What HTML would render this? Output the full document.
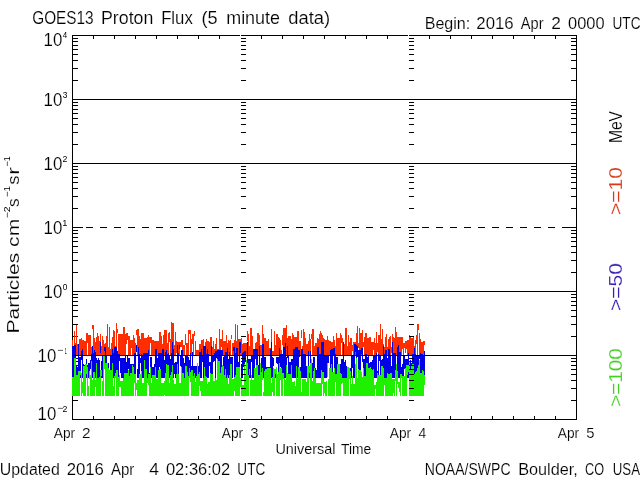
<!DOCTYPE html>
<html><head><meta charset="utf-8"><style>html,body{margin:0;padding:0;background:#fff;}svg{display:block;will-change:transform;}</style></head>
<body><svg width="640" height="480" viewBox="0 0 640 480" font-family="Liberation Sans, sans-serif">
<rect width="640" height="480" fill="#fff"/>
<g shape-rendering="crispEdges"><rect x="72" y="35" width="505" height="1" fill="#000"/><rect x="72" y="419" width="505" height="1" fill="#000"/><rect x="72" y="35" width="1" height="385" fill="#000"/><rect x="576" y="35" width="1" height="385" fill="#000"/><rect x="240" y="35" width="1" height="1" fill="#fff"/><rect x="240" y="419" width="1" height="1" fill="#fff"/><rect x="408" y="35" width="1" height="1" fill="#fff"/><rect x="408" y="419" width="1" height="1" fill="#fff"/><rect x="93" y="36" width="1" height="3" fill="#000"/><rect x="93" y="416" width="1" height="3" fill="#000"/><rect x="114" y="36" width="1" height="3" fill="#000"/><rect x="114" y="416" width="1" height="3" fill="#000"/><rect x="135" y="36" width="1" height="3" fill="#000"/><rect x="135" y="416" width="1" height="3" fill="#000"/><rect x="156" y="36" width="1" height="3" fill="#000"/><rect x="156" y="416" width="1" height="3" fill="#000"/><rect x="177" y="36" width="1" height="3" fill="#000"/><rect x="177" y="416" width="1" height="3" fill="#000"/><rect x="198" y="36" width="1" height="3" fill="#000"/><rect x="198" y="416" width="1" height="3" fill="#000"/><rect x="219" y="36" width="1" height="3" fill="#000"/><rect x="219" y="416" width="1" height="3" fill="#000"/><rect x="261" y="36" width="1" height="3" fill="#000"/><rect x="261" y="416" width="1" height="3" fill="#000"/><rect x="282" y="36" width="1" height="3" fill="#000"/><rect x="282" y="416" width="1" height="3" fill="#000"/><rect x="303" y="36" width="1" height="3" fill="#000"/><rect x="303" y="416" width="1" height="3" fill="#000"/><rect x="324" y="36" width="1" height="3" fill="#000"/><rect x="324" y="416" width="1" height="3" fill="#000"/><rect x="345" y="36" width="1" height="3" fill="#000"/><rect x="345" y="416" width="1" height="3" fill="#000"/><rect x="366" y="36" width="1" height="3" fill="#000"/><rect x="366" y="416" width="1" height="3" fill="#000"/><rect x="387" y="36" width="1" height="3" fill="#000"/><rect x="387" y="416" width="1" height="3" fill="#000"/><rect x="429" y="36" width="1" height="3" fill="#000"/><rect x="429" y="416" width="1" height="3" fill="#000"/><rect x="450" y="36" width="1" height="3" fill="#000"/><rect x="450" y="416" width="1" height="3" fill="#000"/><rect x="471" y="36" width="1" height="3" fill="#000"/><rect x="471" y="416" width="1" height="3" fill="#000"/><rect x="492" y="36" width="1" height="3" fill="#000"/><rect x="492" y="416" width="1" height="3" fill="#000"/><rect x="513" y="36" width="1" height="3" fill="#000"/><rect x="513" y="416" width="1" height="3" fill="#000"/><rect x="534" y="36" width="1" height="3" fill="#000"/><rect x="534" y="416" width="1" height="3" fill="#000"/><rect x="555" y="36" width="1" height="3" fill="#000"/><rect x="555" y="416" width="1" height="3" fill="#000"/><rect x="73" y="400" width="5" height="1" fill="#000"/><rect x="571" y="400" width="5" height="1" fill="#000"/><rect x="73" y="388" width="5" height="1" fill="#000"/><rect x="571" y="388" width="5" height="1" fill="#000"/><rect x="73" y="380" width="5" height="1" fill="#000"/><rect x="571" y="380" width="5" height="1" fill="#000"/><rect x="73" y="374" width="5" height="1" fill="#000"/><rect x="571" y="374" width="5" height="1" fill="#000"/><rect x="73" y="369" width="5" height="1" fill="#000"/><rect x="571" y="369" width="5" height="1" fill="#000"/><rect x="73" y="365" width="5" height="1" fill="#000"/><rect x="571" y="365" width="5" height="1" fill="#000"/><rect x="73" y="361" width="5" height="1" fill="#000"/><rect x="571" y="361" width="5" height="1" fill="#000"/><rect x="73" y="358" width="5" height="1" fill="#000"/><rect x="571" y="358" width="5" height="1" fill="#000"/><rect x="73" y="336" width="5" height="1" fill="#000"/><rect x="571" y="336" width="5" height="1" fill="#000"/><rect x="73" y="324" width="5" height="1" fill="#000"/><rect x="571" y="324" width="5" height="1" fill="#000"/><rect x="73" y="316" width="5" height="1" fill="#000"/><rect x="571" y="316" width="5" height="1" fill="#000"/><rect x="73" y="310" width="5" height="1" fill="#000"/><rect x="571" y="310" width="5" height="1" fill="#000"/><rect x="73" y="305" width="5" height="1" fill="#000"/><rect x="571" y="305" width="5" height="1" fill="#000"/><rect x="73" y="301" width="5" height="1" fill="#000"/><rect x="571" y="301" width="5" height="1" fill="#000"/><rect x="73" y="297" width="5" height="1" fill="#000"/><rect x="571" y="297" width="5" height="1" fill="#000"/><rect x="73" y="294" width="5" height="1" fill="#000"/><rect x="571" y="294" width="5" height="1" fill="#000"/><rect x="73" y="272" width="5" height="1" fill="#000"/><rect x="571" y="272" width="5" height="1" fill="#000"/><rect x="73" y="260" width="5" height="1" fill="#000"/><rect x="571" y="260" width="5" height="1" fill="#000"/><rect x="73" y="252" width="5" height="1" fill="#000"/><rect x="571" y="252" width="5" height="1" fill="#000"/><rect x="73" y="246" width="5" height="1" fill="#000"/><rect x="571" y="246" width="5" height="1" fill="#000"/><rect x="73" y="241" width="5" height="1" fill="#000"/><rect x="571" y="241" width="5" height="1" fill="#000"/><rect x="73" y="237" width="5" height="1" fill="#000"/><rect x="571" y="237" width="5" height="1" fill="#000"/><rect x="73" y="233" width="5" height="1" fill="#000"/><rect x="571" y="233" width="5" height="1" fill="#000"/><rect x="73" y="230" width="5" height="1" fill="#000"/><rect x="571" y="230" width="5" height="1" fill="#000"/><rect x="73" y="208" width="5" height="1" fill="#000"/><rect x="571" y="208" width="5" height="1" fill="#000"/><rect x="73" y="196" width="5" height="1" fill="#000"/><rect x="571" y="196" width="5" height="1" fill="#000"/><rect x="73" y="188" width="5" height="1" fill="#000"/><rect x="571" y="188" width="5" height="1" fill="#000"/><rect x="73" y="182" width="5" height="1" fill="#000"/><rect x="571" y="182" width="5" height="1" fill="#000"/><rect x="73" y="177" width="5" height="1" fill="#000"/><rect x="571" y="177" width="5" height="1" fill="#000"/><rect x="73" y="173" width="5" height="1" fill="#000"/><rect x="571" y="173" width="5" height="1" fill="#000"/><rect x="73" y="169" width="5" height="1" fill="#000"/><rect x="571" y="169" width="5" height="1" fill="#000"/><rect x="73" y="166" width="5" height="1" fill="#000"/><rect x="571" y="166" width="5" height="1" fill="#000"/><rect x="73" y="144" width="5" height="1" fill="#000"/><rect x="571" y="144" width="5" height="1" fill="#000"/><rect x="73" y="132" width="5" height="1" fill="#000"/><rect x="571" y="132" width="5" height="1" fill="#000"/><rect x="73" y="124" width="5" height="1" fill="#000"/><rect x="571" y="124" width="5" height="1" fill="#000"/><rect x="73" y="118" width="5" height="1" fill="#000"/><rect x="571" y="118" width="5" height="1" fill="#000"/><rect x="73" y="113" width="5" height="1" fill="#000"/><rect x="571" y="113" width="5" height="1" fill="#000"/><rect x="73" y="109" width="5" height="1" fill="#000"/><rect x="571" y="109" width="5" height="1" fill="#000"/><rect x="73" y="105" width="5" height="1" fill="#000"/><rect x="571" y="105" width="5" height="1" fill="#000"/><rect x="73" y="102" width="5" height="1" fill="#000"/><rect x="571" y="102" width="5" height="1" fill="#000"/><rect x="73" y="80" width="5" height="1" fill="#000"/><rect x="571" y="80" width="5" height="1" fill="#000"/><rect x="73" y="68" width="5" height="1" fill="#000"/><rect x="571" y="68" width="5" height="1" fill="#000"/><rect x="73" y="60" width="5" height="1" fill="#000"/><rect x="571" y="60" width="5" height="1" fill="#000"/><rect x="73" y="54" width="5" height="1" fill="#000"/><rect x="571" y="54" width="5" height="1" fill="#000"/><rect x="73" y="49" width="5" height="1" fill="#000"/><rect x="571" y="49" width="5" height="1" fill="#000"/><rect x="73" y="45" width="5" height="1" fill="#000"/><rect x="571" y="45" width="5" height="1" fill="#000"/><rect x="73" y="41" width="5" height="1" fill="#000"/><rect x="571" y="41" width="5" height="1" fill="#000"/><rect x="73" y="38" width="5" height="1" fill="#000"/><rect x="571" y="38" width="5" height="1" fill="#000"/></g>
<g shape-rendering="crispEdges"><path d="M72 340v16M73 349v7M74 331v25M75 343v13M76 325v31M77 344v12M78 344v7M79 339v17M80 339v17M81 338v18M82 340v16M83 340v16M84 341v15M85 341v15M86 333v23M87 333v10M88 335v21M89 335v21M90 335v21M91 347v9M92 325v4M93 325v31M94 338v18M95 342v14M96 337v19M97 333v23M98 336v20M99 341v15M100 334v22M101 346v10M102 336v20M103 340v16M104 344v12M105 343v13M106 336v20M107 324v32M108 347v9M109 327v29M110 349v7M111 343v13M112 337v19M113 330v26M114 331v25M115 346v10M116 323v33M117 329v4M118 334v22M119 334v22M120 334v22M121 334v22M122 334v22M123 327v29M124 327v29M125 334v22M126 333v11M127 333v7M128 336v20M129 336v20M130 340v16M131 340v8M132 340v16M133 335v21M134 338v18M135 343v13M136 330v5M137 329v27M138 329v27M139 336v20M140 339v17M141 333v23M142 333v23M143 333v23M144 338v18M145 338v18M146 338v18M147 337v19M148 335v21M149 337v19M150 337v6M151 337v19M152 340v16M153 340v16M154 341v15M155 341v15M156 341v15M157 341v15M158 341v15M159 332v24M160 332v24M161 336v20M162 344v12M163 335v21M164 330v26M165 330v26M166 330v26M167 343v13M168 333v23M169 332v10M170 339v17M171 322v34M172 323v33M173 323v33M174 345v11M175 332v24M176 341v12M177 342v14M178 342v14M179 342v14M180 342v5M181 340v7M182 340v16M183 345v11M184 345v11M185 334v11M186 343v13M187 343v13M188 330v26M189 330v4M190 330v26M191 339v17M192 334v10M193 334v22M194 331v5M195 341v15M196 350v6M197 350v6M198 350v6M199 344v12M200 344v12M201 340v16M202 340v16M203 339v17M204 349v7M205 342v8M206 339v17M207 341v15M208 341v15M209 342v14M210 337v19M211 337v19M212 347v9M213 341v15M214 349v7M215 344v12M216 338v18M217 349v7M218 349v7M219 329v27M220 339v17M221 339v8M222 330v26M223 341v15M224 341v15M225 341v15M226 335v21M227 343v13M228 340v16M229 341v15M230 340v16M231 335v4M232 343v13M233 343v13M234 340v16M235 324v32M236 341v15M237 325v31M238 339v17M239 339v17M240 339v17M241 338v18M242 344v9M243 343v13M244 343v13M245 343v13M246 343v13M247 331v10M248 334v22M249 346v10M250 328v28M251 328v28M252 336v20M253 352v4M254 352v4M255 343v13M256 342v7M257 333v23M258 333v23M259 335v21M260 345v11M261 345v11M262 325v31M263 334v22M264 338v18M265 338v18M266 341v15M267 341v15M268 339v17M269 348v8M270 348v8M271 329v27M272 351v5M273 351v5M274 331v25M275 345v11M276 334v22M277 334v22M278 337v19M279 338v18M280 340v16M281 350v6M282 335v10M283 328v28M284 328v28M285 328v28M286 325v31M287 338v18M288 336v20M289 336v20M290 336v20M291 339v17M292 333v23M293 335v21M294 337v19M295 337v19M296 337v19M297 331v25M298 331v25M299 341v15M300 341v15M301 330v8M302 346v10M303 329v27M304 332v24M305 338v18M306 344v12M307 344v12M308 341v12M309 334v22M310 339v17M311 334v5M312 329v27M313 329v27M314 346v10M315 343v13M316 343v13M317 338v11M318 339v17M319 334v22M320 331v25M321 333v23M322 335v21M323 338v18M324 339v17M325 340v16M326 340v16M327 336v20M328 340v16M329 341v15M330 341v11M331 342v14M332 342v14M333 336v20M334 340v16M335 346v10M336 333v23M337 338v18M338 338v18M339 338v18M340 333v23M341 335v8M342 338v18M343 344v12M344 344v12M345 328v28M346 328v28M347 346v10M348 335v21M349 342v14M350 338v18M351 338v18M352 345v6M353 342v14M354 342v14M355 342v14M356 333v23M357 326v30M358 343v5M359 328v28M360 333v23M361 333v23M362 330v26M363 342v5M364 337v19M365 333v23M366 333v23M367 338v18M368 338v18M369 337v19M370 337v19M371 342v14M372 342v14M373 342v8M374 338v18M375 343v13M376 332v24M377 343v9M378 335v21M379 335v21M380 324v32M381 339v17M382 329v27M383 344v12M384 347v9M385 337v19M386 334v22M387 347v9M388 339v17M389 337v19M390 336v20M391 347v6M392 334v8M393 337v19M394 338v18M395 327v29M396 332v24M397 337v19M398 337v19M399 337v19M400 337v19M401 337v19M402 337v12M403 343v13M404 343v5M405 341v12M406 341v8M407 340v16M408 340v16M409 335v21M410 337v19M411 338v18M412 338v18M413 336v20M414 346v10M415 340v16M416 335v9M417 324v32M418 324v6M419 333v23M420 339v17M421 342v14M422 342v14M423 341v15M424 341v4" stroke="#ff2d00" stroke-width="1" transform="translate(0.5,0)" fill="none"/><path d="M72 346v32M73 346v32M74 345v13M75 345v33M76 365v13M77 367v11M78 344v34M79 357v21M80 357v21M81 351v9M82 349v29M83 364v14M84 365v13M85 365v13M86 359v19M87 365v13M88 363v15M89 363v15M90 360v9M91 354v24M92 346v32M93 353v25M94 350v28M95 352v26M96 358v8M97 360v18M98 358v20M99 360v18M100 342v11M101 361v17M102 355v23M103 358v20M104 347v4M105 347v31M106 356v10M107 363v15M108 363v15M109 373v5M110 356v22M111 356v22M112 349v29M113 353v25M114 347v31M115 347v31M116 347v31M117 351v27M118 354v24M119 354v7M120 358v15M121 358v20M122 358v20M123 358v20M124 358v20M125 356v22M126 362v16M127 356v22M128 358v11M129 358v20M130 364v14M131 364v14M132 364v14M133 364v14M134 353v25M135 353v25M136 345v7M137 369v9M138 347v31M139 354v24M140 358v5M141 354v24M142 356v22M143 353v25M144 353v25M145 353v25M146 353v25M147 353v25M148 350v28M149 373v5M150 357v21M151 357v21M152 367v8M153 367v11M154 364v14M155 349v29M156 349v29M157 358v20M158 353v25M159 353v14M160 353v25M161 353v25M162 349v29M163 349v29M164 360v18M165 352v26M166 350v28M167 354v24M168 353v25M169 356v22M170 359v19M171 353v25M172 342v36M173 349v29M174 363v11M175 362v16M176 362v16M177 345v33M178 353v25M179 345v4M180 356v10M181 350v28M182 350v28M183 358v20M184 363v15M185 355v23M186 356v22M187 356v22M188 357v21M189 360v18M190 353v25M191 366v12M192 352v26M193 366v12M194 366v12M195 366v12M196 366v12M197 366v12M198 366v12M199 352v26M200 352v26M201 349v29M202 356v6M203 346v32M204 346v32M205 346v32M206 354v24M207 349v29M208 354v24M209 362v4M210 362v16M211 346v32M212 355v23M213 355v7M214 353v8M215 351v27M216 351v7M217 350v28M218 350v28M219 350v28M220 350v28M221 350v28M222 350v6M223 357v21M224 355v23M225 352v26M226 352v26M227 348v30M228 359v19M229 352v26M230 357v21M231 357v21M232 357v21M233 347v4M234 347v31M235 353v25M236 348v30M237 348v30M238 362v16M239 342v36M240 342v11M241 364v14M242 353v25M243 352v15M244 351v27M245 351v10M246 362v8M247 342v36M248 359v19M249 359v19M250 359v19M251 355v7M252 355v23M253 349v29M254 349v29M255 349v10M256 349v29M257 349v29M258 365v12M259 346v32M260 364v14M261 358v20M262 344v34M263 344v34M264 357v21M265 357v21M266 367v11M267 367v8M268 367v11M269 367v11M270 349v29M271 342v36M272 357v21M273 358v8M274 372v6M275 372v6M276 357v6M277 357v7M278 357v21M279 348v30M280 354v13M281 354v24M282 354v24M283 347v31M284 347v31M285 343v35M286 357v21M287 346v12M288 355v23M289 362v16M290 362v13M291 359v19M292 359v19M293 349v29M294 349v29M295 347v31M296 347v31M297 347v31M298 350v28M299 350v7M300 367v11M301 349v29M302 349v29M303 354v24M304 354v24M305 354v24M306 366v12M307 366v12M308 351v27M309 367v11M310 351v27M311 363v14M312 363v15M313 357v14M314 357v21M315 368v10M316 370v8M317 347v31M318 347v31M319 354v24M320 354v24M321 342v36M322 342v36M323 342v36M324 356v22M325 356v22M326 355v23M327 355v15M328 355v8M329 368v10M330 350v28M331 349v29M332 349v29M333 348v7M334 348v30M335 354v24M336 357v21M337 357v13M338 364v14M339 364v14M340 364v14M341 359v19M342 359v19M343 342v36M344 362v16M345 360v18M346 366v12M347 368v10M348 368v4M349 368v10M350 368v10M351 356v22M352 356v12M353 356v22M354 344v34M355 344v8M356 345v33M357 346v11M358 350v28M359 350v28M360 350v28M361 348v6M362 348v14M363 359v19M364 359v19M365 354v24M366 354v24M367 357v13M368 355v23M369 363v15M370 362v16M371 362v16M372 360v18M373 355v23M374 355v23M375 355v23M376 353v25M377 371v7M378 354v24M379 355v6M380 355v23M381 360v18M382 359v19M383 346v32M384 354v24M385 350v28M386 350v28M387 358v20M388 349v29M389 349v29M390 356v22M391 366v12M392 342v36M393 353v25M394 353v25M395 353v25M396 366v12M397 347v31M398 345v33M399 352v26M400 352v26M401 367v11M402 364v14M403 356v22M404 356v13M405 359v19M406 359v19M407 359v19M408 353v25M409 362v16M410 360v18M411 363v8M412 354v24M413 354v24M414 348v30M415 354v24M416 355v23M417 355v23M418 355v23M419 355v4M420 353v25M421 354v24M422 354v24M423 356v22M424 351v27" stroke="#0000e6" stroke-width="1" transform="translate(0.5,0)" fill="none"/><path d="M72 377v19M73 377v19M74 358v38M75 358v38M76 375v21M77 375v21M78 371v25M79 371v25M80 371v4M81 373v23M82 382v11M83 366v30M84 366v30M85 364v32M86 364v10M87 367v29M88 386v10M89 371v8M90 375v21M91 361v35M92 380v16M93 372v24M94 372v24M95 380v7M96 363v33M97 378v18M98 378v18M99 377v19M100 370v26M101 370v6M102 381v15M103 356v40M104 356v13M105 363v33M106 363v33M107 363v33M108 368v28M109 370v26M110 370v26M111 370v26M112 363v33M113 386v10M114 376v20M115 373v5M116 370v26M117 370v26M118 377v19M119 375v12M120 381v6M121 381v15M122 381v15M123 378v18M124 373v23M125 373v23M126 373v23M127 373v23M128 370v26M129 376v20M130 373v23M131 373v23M132 365v31M133 367v29M134 374v9M135 374v22M136 383v7M137 380v16M138 380v16M139 374v22M140 374v22M141 371v25M142 383v13M143 383v13M144 360v36M145 369v27M146 369v27M147 378v5M148 374v11M149 374v22M150 367v29M151 383v13M152 375v21M153 375v21M154 375v21M155 367v29M156 379v17M157 379v17M158 370v26M159 369v27M160 369v27M161 383v13M162 383v13M163 383v13M164 381v14M165 373v23M166 364v32M167 365v31M168 365v31M169 383v13M170 375v21M171 372v24M172 365v31M173 380v16M174 384v12M175 384v12M176 374v22M177 364v32M178 374v22M179 383v13M180 383v13M181 367v29M182 373v23M183 373v23M184 378v18M185 366v30M186 366v30M187 372v24M188 376v20M189 368v10M190 372v10M191 370v26M192 370v26M193 376v20M194 373v23M195 382v14M196 376v20M197 363v33M198 374v22M199 372v14M200 381v10M201 381v15M202 381v15M203 378v18M204 367v29M205 376v20M206 377v19M207 384v12M208 382v14M209 382v14M210 373v23M211 374v22M212 374v22M213 381v15M214 381v15M215 378v18M216 380v16M217 359v37M218 361v35M219 361v35M220 373v23M221 367v29M222 365v31M223 366v30M224 375v21M225 369v27M226 378v18M227 375v21M228 384v12M229 375v21M230 364v32M231 364v32M232 379v17M233 379v17M234 377v14M235 375v21M236 367v29M237 367v29M238 367v29M239 367v29M240 378v9M241 378v18M242 385v11M243 385v11M244 364v32M245 374v22M246 360v36M247 363v33M248 375v21M249 369v6M250 380v16M251 375v21M252 380v16M253 380v16M254 368v28M255 368v28M256 365v31M257 365v31M258 375v21M259 375v21M260 363v33M261 372v24M262 368v12M263 392v4M264 371v25M265 369v27M266 369v27M267 368v28M268 368v28M269 368v28M270 368v28M271 383v13M272 377v15M273 368v28M274 369v27M275 369v5M276 367v29M277 374v22M278 372v24M279 363v33M280 368v12M281 368v28M282 373v23M283 373v6M284 378v18M285 380v16M286 365v31M287 373v23M288 374v22M289 374v22M290 374v22M291 365v31M292 382v14M293 382v14M294 381v15M295 386v10M296 366v30M297 379v17M298 367v29M299 367v29M300 371v25M301 392v4M302 379v17M303 379v17M304 379v17M305 379v17M306 382v14M307 366v30M308 366v30M309 366v7M310 363v33M311 359v37M312 381v15M313 371v25M314 368v28M315 378v18M316 383v13M317 383v13M318 383v13M319 383v13M320 383v13M321 370v26M322 372v12M323 372v24M324 382v11M325 382v14M326 381v15M327 363v14M328 379v17M329 368v28M330 368v28M331 364v32M332 372v24M333 372v24M334 368v28M335 374v8M336 374v22M337 364v32M338 364v32M339 364v32M340 373v23M341 374v10M342 378v5M343 378v18M344 378v18M345 378v18M346 378v18M347 367v29M348 367v29M349 368v11M350 371v25M351 384v12M352 376v20M353 384v12M354 384v12M355 364v32M356 358v38M357 378v18M358 369v27M359 370v26M360 370v26M361 372v24M362 377v19M363 368v28M364 376v20M365 376v20M366 363v33M367 363v33M368 368v28M369 368v28M370 367v29M371 369v27M372 370v26M373 369v27M374 385v11M375 385v4M376 382v14M377 373v23M378 375v21M379 375v21M380 375v21M381 366v30M382 366v30M383 368v28M384 378v7M385 378v18M386 378v18M387 373v23M388 374v22M389 374v22M390 373v23M391 373v23M392 379v17M393 379v14M394 379v17M395 370v11M396 364v32M397 371v13M398 382v6M399 382v10M400 374v22M401 374v4M402 376v20M403 376v20M404 376v20M405 368v28M406 365v31M407 365v10M408 365v7M409 361v35M410 369v27M411 365v31M412 364v32M413 364v32M414 374v22M415 372v24M416 371v25M417 368v28M418 365v31M419 360v36M420 373v23M421 373v23M422 370v26M423 371v25M424 375v10" stroke="#1ef000" stroke-width="1" transform="translate(0.5,0)" fill="none"/></g>
<g shape-rendering="crispEdges"><rect x="241" y="400" width="5" height="1" fill="#000"/><rect x="409" y="400" width="5" height="1" fill="#000"/><rect x="241" y="388" width="5" height="1" fill="#000"/><rect x="409" y="388" width="5" height="1" fill="#000"/><rect x="241" y="380" width="5" height="1" fill="#000"/><rect x="409" y="380" width="5" height="1" fill="#000"/><rect x="241" y="374" width="5" height="1" fill="#000"/><rect x="409" y="374" width="5" height="1" fill="#000"/><rect x="241" y="369" width="5" height="1" fill="#000"/><rect x="409" y="369" width="5" height="1" fill="#000"/><rect x="241" y="365" width="5" height="1" fill="#000"/><rect x="409" y="365" width="5" height="1" fill="#000"/><rect x="241" y="361" width="5" height="1" fill="#000"/><rect x="409" y="361" width="5" height="1" fill="#000"/><rect x="241" y="358" width="5" height="1" fill="#000"/><rect x="409" y="358" width="5" height="1" fill="#000"/><rect x="241" y="336" width="5" height="1" fill="#000"/><rect x="409" y="336" width="5" height="1" fill="#000"/><rect x="241" y="324" width="5" height="1" fill="#000"/><rect x="409" y="324" width="5" height="1" fill="#000"/><rect x="241" y="316" width="5" height="1" fill="#000"/><rect x="409" y="316" width="5" height="1" fill="#000"/><rect x="241" y="310" width="5" height="1" fill="#000"/><rect x="409" y="310" width="5" height="1" fill="#000"/><rect x="241" y="305" width="5" height="1" fill="#000"/><rect x="409" y="305" width="5" height="1" fill="#000"/><rect x="241" y="301" width="5" height="1" fill="#000"/><rect x="409" y="301" width="5" height="1" fill="#000"/><rect x="241" y="297" width="5" height="1" fill="#000"/><rect x="409" y="297" width="5" height="1" fill="#000"/><rect x="241" y="294" width="5" height="1" fill="#000"/><rect x="409" y="294" width="5" height="1" fill="#000"/><rect x="241" y="272" width="5" height="1" fill="#000"/><rect x="409" y="272" width="5" height="1" fill="#000"/><rect x="241" y="260" width="5" height="1" fill="#000"/><rect x="409" y="260" width="5" height="1" fill="#000"/><rect x="241" y="252" width="5" height="1" fill="#000"/><rect x="409" y="252" width="5" height="1" fill="#000"/><rect x="241" y="246" width="5" height="1" fill="#000"/><rect x="409" y="246" width="5" height="1" fill="#000"/><rect x="241" y="241" width="5" height="1" fill="#000"/><rect x="409" y="241" width="5" height="1" fill="#000"/><rect x="241" y="237" width="5" height="1" fill="#000"/><rect x="409" y="237" width="5" height="1" fill="#000"/><rect x="241" y="233" width="5" height="1" fill="#000"/><rect x="409" y="233" width="5" height="1" fill="#000"/><rect x="241" y="230" width="5" height="1" fill="#000"/><rect x="409" y="230" width="5" height="1" fill="#000"/><rect x="241" y="208" width="5" height="1" fill="#000"/><rect x="409" y="208" width="5" height="1" fill="#000"/><rect x="241" y="196" width="5" height="1" fill="#000"/><rect x="409" y="196" width="5" height="1" fill="#000"/><rect x="241" y="188" width="5" height="1" fill="#000"/><rect x="409" y="188" width="5" height="1" fill="#000"/><rect x="241" y="182" width="5" height="1" fill="#000"/><rect x="409" y="182" width="5" height="1" fill="#000"/><rect x="241" y="177" width="5" height="1" fill="#000"/><rect x="409" y="177" width="5" height="1" fill="#000"/><rect x="241" y="173" width="5" height="1" fill="#000"/><rect x="409" y="173" width="5" height="1" fill="#000"/><rect x="241" y="169" width="5" height="1" fill="#000"/><rect x="409" y="169" width="5" height="1" fill="#000"/><rect x="241" y="166" width="5" height="1" fill="#000"/><rect x="409" y="166" width="5" height="1" fill="#000"/><rect x="241" y="144" width="5" height="1" fill="#000"/><rect x="409" y="144" width="5" height="1" fill="#000"/><rect x="241" y="132" width="5" height="1" fill="#000"/><rect x="409" y="132" width="5" height="1" fill="#000"/><rect x="241" y="124" width="5" height="1" fill="#000"/><rect x="409" y="124" width="5" height="1" fill="#000"/><rect x="241" y="118" width="5" height="1" fill="#000"/><rect x="409" y="118" width="5" height="1" fill="#000"/><rect x="241" y="113" width="5" height="1" fill="#000"/><rect x="409" y="113" width="5" height="1" fill="#000"/><rect x="241" y="109" width="5" height="1" fill="#000"/><rect x="409" y="109" width="5" height="1" fill="#000"/><rect x="241" y="105" width="5" height="1" fill="#000"/><rect x="409" y="105" width="5" height="1" fill="#000"/><rect x="241" y="102" width="5" height="1" fill="#000"/><rect x="409" y="102" width="5" height="1" fill="#000"/><rect x="241" y="80" width="5" height="1" fill="#000"/><rect x="409" y="80" width="5" height="1" fill="#000"/><rect x="241" y="68" width="5" height="1" fill="#000"/><rect x="409" y="68" width="5" height="1" fill="#000"/><rect x="241" y="60" width="5" height="1" fill="#000"/><rect x="409" y="60" width="5" height="1" fill="#000"/><rect x="241" y="54" width="5" height="1" fill="#000"/><rect x="409" y="54" width="5" height="1" fill="#000"/><rect x="241" y="49" width="5" height="1" fill="#000"/><rect x="409" y="49" width="5" height="1" fill="#000"/><rect x="241" y="45" width="5" height="1" fill="#000"/><rect x="409" y="45" width="5" height="1" fill="#000"/><rect x="241" y="41" width="5" height="1" fill="#000"/><rect x="409" y="41" width="5" height="1" fill="#000"/><rect x="241" y="38" width="5" height="1" fill="#000"/><rect x="409" y="38" width="5" height="1" fill="#000"/><rect x="72" y="99" width="505" height="1" fill="#000"/><rect x="72" y="163" width="505" height="1" fill="#000"/><rect x="72" y="291" width="505" height="1" fill="#000"/><rect x="72" y="355" width="505" height="1" fill="#000"/><rect x="72" y="227" width="7" height="1" fill="#000"/><rect x="86" y="227" width="7" height="1" fill="#000"/><rect x="100" y="227" width="7" height="1" fill="#000"/><rect x="114" y="227" width="7" height="1" fill="#000"/><rect x="128" y="227" width="7" height="1" fill="#000"/><rect x="142" y="227" width="7" height="1" fill="#000"/><rect x="156" y="227" width="7" height="1" fill="#000"/><rect x="170" y="227" width="7" height="1" fill="#000"/><rect x="184" y="227" width="7" height="1" fill="#000"/><rect x="198" y="227" width="7" height="1" fill="#000"/><rect x="212" y="227" width="7" height="1" fill="#000"/><rect x="226" y="227" width="7" height="1" fill="#000"/><rect x="240" y="227" width="7" height="1" fill="#000"/><rect x="254" y="227" width="7" height="1" fill="#000"/><rect x="268" y="227" width="7" height="1" fill="#000"/><rect x="282" y="227" width="7" height="1" fill="#000"/><rect x="296" y="227" width="7" height="1" fill="#000"/><rect x="310" y="227" width="7" height="1" fill="#000"/><rect x="324" y="227" width="7" height="1" fill="#000"/><rect x="338" y="227" width="7" height="1" fill="#000"/><rect x="352" y="227" width="7" height="1" fill="#000"/><rect x="366" y="227" width="7" height="1" fill="#000"/><rect x="380" y="227" width="7" height="1" fill="#000"/><rect x="394" y="227" width="7" height="1" fill="#000"/><rect x="408" y="227" width="7" height="1" fill="#000"/><rect x="422" y="227" width="7" height="1" fill="#000"/><rect x="436" y="227" width="7" height="1" fill="#000"/><rect x="450" y="227" width="7" height="1" fill="#000"/><rect x="464" y="227" width="7" height="1" fill="#000"/><rect x="478" y="227" width="7" height="1" fill="#000"/><rect x="492" y="227" width="7" height="1" fill="#000"/><rect x="506" y="227" width="7" height="1" fill="#000"/><rect x="520" y="227" width="7" height="1" fill="#000"/><rect x="534" y="227" width="7" height="1" fill="#000"/><rect x="548" y="227" width="7" height="1" fill="#000"/><rect x="562" y="227" width="7" height="1" fill="#000"/><rect x="72" y="227" width="11" height="1" fill="#000"/><rect x="240" y="227" width="11" height="1" fill="#000"/><rect x="408" y="227" width="11" height="1" fill="#000"/><rect x="566" y="227" width="11" height="1" fill="#000"/></g>
<g stroke="#fff" stroke-width="0.15"><text x="32.23" y="24" font-size="17.5" fill="#000" textLength="61.45" lengthAdjust="spacingAndGlyphs">GOES13</text><text x="101.04" y="24" font-size="17.5" fill="#000" textLength="52.31" lengthAdjust="spacingAndGlyphs">Proton</text><text x="161.13" y="24" font-size="17.5" fill="#000" textLength="31.65" lengthAdjust="spacingAndGlyphs">Flux</text><text x="201.58" y="24" font-size="17.5" fill="#000" textLength="16.08" lengthAdjust="spacingAndGlyphs">(5</text><text x="226.21" y="24" font-size="17.5" fill="#000" textLength="53.79" lengthAdjust="spacingAndGlyphs">minute</text><text x="288.23" y="24" font-size="17.5" fill="#000" textLength="41.91" lengthAdjust="spacingAndGlyphs">data)</text><text x="424.68" y="29" font-size="16" fill="#000" textLength="45.59" lengthAdjust="spacingAndGlyphs">Begin:</text><text x="476.36" y="29" font-size="16" fill="#000" textLength="37.28" lengthAdjust="spacingAndGlyphs">2016</text><text x="520.87" y="29" font-size="16" fill="#000" textLength="22.67" lengthAdjust="spacingAndGlyphs">Apr</text><text x="551.23" y="29" font-size="16" fill="#000" textLength="9.64" lengthAdjust="spacingAndGlyphs">2</text><text x="568.06" y="29" font-size="16" fill="#000" textLength="36.48" lengthAdjust="spacingAndGlyphs">0000</text><text x="612.55" y="29" font-size="16" fill="#000" textLength="27.97" lengthAdjust="spacingAndGlyphs">UTC</text><text x="53.77" y="438" font-size="14.5" fill="#000" textLength="21.35" lengthAdjust="spacingAndGlyphs">Apr</text><text x="82.13" y="438" font-size="14.5" fill="#000" textLength="8.55" lengthAdjust="spacingAndGlyphs">2</text><text x="221.77" y="438" font-size="14.5" fill="#000" textLength="21.35" lengthAdjust="spacingAndGlyphs">Apr</text><text x="250.34" y="438" font-size="14.5" fill="#000" textLength="8.21" lengthAdjust="spacingAndGlyphs">3</text><text x="389.77" y="438" font-size="14.5" fill="#000" textLength="21.35" lengthAdjust="spacingAndGlyphs">Apr</text><text x="418.58" y="438" font-size="14.5" fill="#000" textLength="7.73" lengthAdjust="spacingAndGlyphs">4</text><text x="557.77" y="438" font-size="14.5" fill="#000" textLength="21.35" lengthAdjust="spacingAndGlyphs">Apr</text><text x="586.31" y="438" font-size="14.5" fill="#000" textLength="8.21" lengthAdjust="spacingAndGlyphs">5</text><text x="275.39" y="454" font-size="14.5" fill="#000" textLength="59.97" lengthAdjust="spacingAndGlyphs">Universal</text><text x="341.0" y="454" font-size="14.5" fill="#000" textLength="30.11" lengthAdjust="spacingAndGlyphs">Time</text><text x="-0.22" y="475" font-size="16" fill="#000" textLength="60.0" lengthAdjust="spacingAndGlyphs">Updated</text><text x="66.66" y="475" font-size="16" fill="#000" textLength="37.28" lengthAdjust="spacingAndGlyphs">2016</text><text x="110.97" y="475" font-size="16" fill="#000" textLength="23.38" lengthAdjust="spacingAndGlyphs">Apr</text><text x="149.3" y="475" font-size="16" fill="#000" textLength="9.71" lengthAdjust="spacingAndGlyphs">4</text><text x="165.95" y="475" font-size="16" fill="#000" textLength="64.28" lengthAdjust="spacingAndGlyphs">02:36:02</text><text x="237.35" y="475" font-size="16" fill="#000" textLength="27.86" lengthAdjust="spacingAndGlyphs">UTC</text><text x="424.85" y="475" font-size="16" fill="#000" textLength="85.68" lengthAdjust="spacingAndGlyphs">NOAA/SWPC</text><text x="518.19" y="475" font-size="16" fill="#000" textLength="59.55" lengthAdjust="spacingAndGlyphs">Boulder,</text><text x="585.05" y="475" font-size="16" fill="#000" textLength="19.05" lengthAdjust="spacingAndGlyphs">CO</text><text x="612.78" y="475" font-size="16" fill="#000" textLength="27.25" lengthAdjust="spacingAndGlyphs">USA</text><text x="37.62" y="420" font-size="17.5" fill="#000" textLength="18.63" lengthAdjust="spacingAndGlyphs">10</text><text x="57.38" y="411" font-size="9" fill="#000" textLength="6.13" lengthAdjust="spacingAndGlyphs" stroke="none">−</text><text x="62.56" y="412" font-size="9" fill="#000" textLength="4.88" lengthAdjust="spacingAndGlyphs" stroke="none">2</text><text x="37.62" y="362" font-size="17.5" fill="#000" textLength="18.63" lengthAdjust="spacingAndGlyphs">10</text><text x="57.38" y="353" font-size="9" fill="#000" textLength="6.13" lengthAdjust="spacingAndGlyphs" stroke="none">−</text><text x="64.63" y="354" font-size="9" fill="#000" textLength="1.93" lengthAdjust="spacingAndGlyphs" stroke="none">1</text><text x="43.62" y="298" font-size="17.5" fill="#000" textLength="18.74" lengthAdjust="spacingAndGlyphs">10</text><text x="62.67" y="290" font-size="9" fill="#000" textLength="4.65" lengthAdjust="spacingAndGlyphs" stroke="none">0</text><text x="43.62" y="234" font-size="17.5" fill="#000" textLength="18.74" lengthAdjust="spacingAndGlyphs">10</text><text x="62.29" y="226" font-size="9" fill="#000" textLength="5.16" lengthAdjust="spacingAndGlyphs" stroke="none">1</text><text x="43.62" y="170" font-size="17.5" fill="#000" textLength="18.74" lengthAdjust="spacingAndGlyphs">10</text><text x="62.56" y="162" font-size="9" fill="#000" textLength="4.88" lengthAdjust="spacingAndGlyphs" stroke="none">2</text><text x="43.62" y="106" font-size="17.5" fill="#000" textLength="18.74" lengthAdjust="spacingAndGlyphs">10</text><text x="62.68" y="98" font-size="9" fill="#000" textLength="4.69" lengthAdjust="spacingAndGlyphs" stroke="none">3</text><text x="43.62" y="46" font-size="17.5" fill="#000" textLength="18.74" lengthAdjust="spacingAndGlyphs">10</text><text x="62.82" y="38" font-size="9" fill="#000" textLength="4.41" lengthAdjust="spacingAndGlyphs" stroke="none">4</text><text transform="translate(19,480) rotate(-90)" x="146.57" y="0" font-size="16" fill="#000" textLength="114.61" lengthAdjust="spacingAndGlyphs">Particles cm</text><text transform="translate(19,480) rotate(-90)" x="261.68" y="-9" font-size="9" stroke="none" fill="#000" textLength="11.94" lengthAdjust="spacingAndGlyphs">−2</text><text transform="translate(19,480) rotate(-90)" x="273.11" y="0" font-size="16" fill="#000" textLength="8.71" lengthAdjust="spacingAndGlyphs">s</text><text transform="translate(19,480) rotate(-90)" x="282.92" y="-9" font-size="9" stroke="none" fill="#000" textLength="11.16" lengthAdjust="spacingAndGlyphs">−1</text><text transform="translate(19,480) rotate(-90)" x="295.18" y="0" font-size="16" fill="#000" textLength="9.29" lengthAdjust="spacingAndGlyphs">s</text><text transform="translate(19,480) rotate(-90)" x="305.16" y="0" font-size="16" fill="#000" textLength="7.73" lengthAdjust="spacingAndGlyphs">r</text><text transform="translate(19,480) rotate(-90)" x="313.56" y="-9" font-size="9" stroke="none" fill="#000" textLength="10.29" lengthAdjust="spacingAndGlyphs">−1</text><text transform="translate(622,480) rotate(-90)" x="336.92" y="0" font-size="19" fill="#000" textLength="32.15" lengthAdjust="spacingAndGlyphs">MeV</text><text transform="translate(622,480) rotate(-90)" x="264.97" y="0" font-size="19" fill="#d83a18" textLength="47.85" lengthAdjust="spacingAndGlyphs">&gt;=10</text><text transform="translate(622,480) rotate(-90)" x="168.96" y="0" font-size="19" fill="#3a20b0" textLength="48.11" lengthAdjust="spacingAndGlyphs">&gt;=50</text><text transform="translate(622,480) rotate(-90)" x="73.18" y="0" font-size="19" fill="#40d020" textLength="58.63" lengthAdjust="spacingAndGlyphs">&gt;=100</text></g>
</svg></body></html>
